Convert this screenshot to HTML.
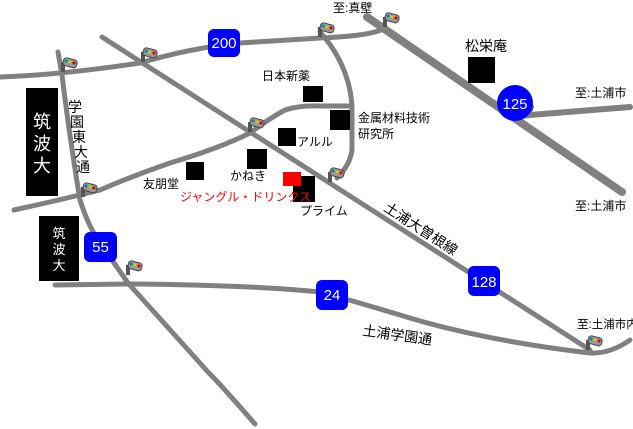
<!DOCTYPE html>
<html><head><meta charset="utf-8"><style>
html,body{margin:0;padding:0;background:#fff;}
svg{display:block;font-family:"Liberation Sans","Noto Sans CJK JP",sans-serif;}
</style></head><body>
<svg width="633" height="429" viewBox="0 0 633 429" xmlns="http://www.w3.org/2000/svg">
<defs>
<g id="tl">
<rect x="-2" y="0" width="4" height="10" fill="#555"/>
<rect x="0" y="-5" width="14" height="8" rx="3" fill="#999" stroke="#444" stroke-width="1" transform="rotate(15)"/>
<circle cx="3" cy="-1" r="1.5" fill="#08a"/><circle cx="7" cy="0" r="1.5" fill="#dc0"/><circle cx="11" cy="1" r="1.5" fill="#d00"/>
</g>
</defs>
<g fill="none" stroke="#808080" stroke-linecap="round" stroke-linejoin="round">
<path d="M0,77 Q60,75 140,63 Q190,48 240,43 L320,38 Q370,36 383,29" stroke-width="5"/>
<path d="M102,37 L590,350" stroke-width="5"/>
<path d="M367,17 L622,192" stroke-width="8"/>
<path d="M517,116 L630,107" stroke-width="6"/>
<path d="M58,52 L62,75 Q70,140 80,200 Q88,225 98,240 L128,283 L208,372 Q222,386 255,424" stroke-width="5"/>
<path d="M14,210 Q60,200 100,190 Q135,175 170,163 Q220,148 250,133 Q270,118 285,110 Q300,105 320,106 L352,106" stroke-width="5"/>
<path d="M320,32 C345,60 352,90 352,110 L352,150 Q350,165 337,178" stroke-width="5"/>
<path d="M55,285 L130,284 Q250,285 320,292 Q350,300 400,315 Q480,340 590,353 Q610,354 630,340" stroke-width="5"/>
</g>
<g>
<use href="#tl" x="63" y="62"/><use href="#tl" x="143" y="52"/><use href="#tl" x="250" y="122"/>
<use href="#tl" x="320" y="27"/><use href="#tl" x="385" y="17"/><use href="#tl" x="519" y="106"/>
<use href="#tl" x="330" y="172"/><use href="#tl" x="83" y="187"/><use href="#tl" x="128" y="265"/>
<use href="#tl" x="588" y="340"/>
</g>
<rect x="26" y="88" width="32" height="108" fill="#000"/>
<text fill="#fff" font-size="18" text-anchor="middle"><tspan x="42" y="128">筑</tspan><tspan x="42" y="150">波</tspan><tspan x="42" y="172">大</tspan></text>
<rect x="39" y="216" width="40" height="65" fill="#000"/>
<text fill="#fff" font-size="13" text-anchor="middle"><tspan x="59" y="238">筑</tspan><tspan x="59" y="254">波</tspan><tspan x="59" y="270">大</tspan></text>
<text fill="#000" font-size="14" text-anchor="middle"><tspan x="75" y="112">学</tspan><tspan x="77" y="127">園</tspan><tspan x="79" y="142">東</tspan><tspan x="81" y="157">大</tspan><tspan x="83" y="172">通</tspan></text>
<g fill="#00f"><rect x="84" y="232" width="33" height="30" rx="6"/><rect x="208" y="29" width="32" height="28" rx="6"/><rect x="468" y="266" width="32" height="30" rx="6"/><rect x="316" y="280" width="32" height="30" rx="6"/><circle cx="515" cy="103" r="18"/></g>
<g fill="#fff" font-size="15" text-anchor="middle"><text x="100.5" y="252">55</text><text x="224" y="48">200</text><text x="484" y="287">128</text><text x="332" y="300">24</text><text x="515" y="109">125</text></g>
<g fill="#000">
<rect x="303" y="86" width="20" height="16"/><rect x="330" y="110" width="20" height="20"/><rect x="278" y="128" width="18" height="18"/>
<rect x="247" y="149" width="20" height="20"/><rect x="186" y="162" width="18" height="18"/><rect x="293" y="176" width="22" height="26"/>
<rect x="468" y="57" width="27" height="26"/>
</g>
<rect x="283" y="172" width="18" height="14" fill="#f00"/>
<g fill="#000" font-size="12">
<text x="262" y="80">日本新薬</text>
<text x="358" y="122">金属材料技術</text><text x="358" y="138">研究所</text>
<text x="297" y="146">アルル</text>
<text x="230" y="180">かねき</text>
<text x="143" y="188">友朋堂</text>
<text x="300" y="215">プライム</text>
<text x="465" y="51" font-size="14">松栄庵</text>
<text x="333" y="12">至:真壁</text>
<text x="575" y="97">至:土浦市</text>
<text x="575" y="210">至:土浦市</text>
<text x="577" y="328" font-size="11.5">至:土浦市内</text>
<text transform="translate(383,210) rotate(33)" font-size="14">土浦大曽根線</text>
<text transform="translate(362,335) rotate(8)" font-size="14">土浦学園通</text>
</g>
<text x="180" y="201" fill="#f00" font-size="12">ジャングル・ドリンクス</text>
</svg>
</body></html>
